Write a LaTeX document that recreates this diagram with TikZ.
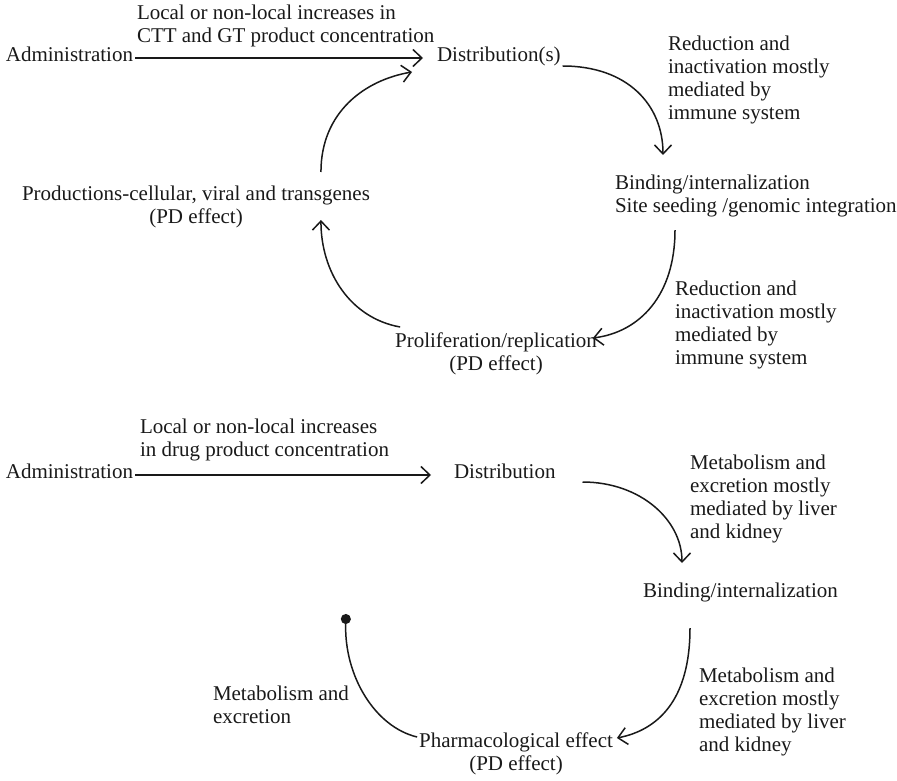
\documentclass[tikz,border=0pt]{standalone}
\usepackage{fontspec}
\setmainfont{Liberation Serif}
\usetikzlibrary{arrows.meta,calc}
\begin{document}
\begin{tikzpicture}[x=1pt,y=-1pt,
  lbl/.style={inner sep=0pt, outer sep=0pt, font=\fontsize{21}{23}\selectfont, text=black!90},
  flow/.style={line width=1.5pt, draw=black!90,
    -{Straight Barb[length=9pt,width=17pt,line width=1.5pt]}},
  endpoint/.style={line width=1.5pt, draw=black!90, -{Circle[length=10pt]}}]
\useasboundingbox (0,0) rectangle (897,781);

% ---------------- cell and gene therapy cycle ----------------
\node[lbl, anchor=north west, align=left] (inc1) at (137,5)
  {Local or non-local increases in\\CTT and GT product concentration};
\node[lbl, anchor=base east] (adm1) at (133,62) {Administration};
\node[lbl, anchor=base west] (dist1) at (437,62) {Distribution(s)};
\node[lbl, anchor=north west, align=left] (red1) at (668,36)
  {Reduction and\\inactivation mostly\\mediated by\\immune system};
\node[lbl, anchor=north west, align=left] (bind1) at (615,175)
  {Binding/internalization\\Site seeding /genomic integration};
\node[lbl, anchor=north west, align=left] (red2) at (675,281)
  {Reduction and\\inactivation mostly\\mediated by\\immune system};
\node[lbl, anchor=north, align=center] (prol) at (496,333)
  {Proliferation/replication\\(PD effect)};
\node[lbl, anchor=north, align=center] (prod) at (196,186)
  {Productions-cellular, viral and transgenes\\(PD effect)};

\draw[flow] ($(adm1.base east)+(2,-4)$) -- ($(dist1.base west)+(-14,-4)$);

\coordinate (p1s) at ($(dist1.base east)+(2,4)$);
\coordinate (p1e) at ($(bind1.north west)+(48,-20)$);
\draw[flow] (p1s) .. controls ($(p1s)+(65,0)$) and ($(p1e)+(0,-50)$) .. (p1e);

\coordinate (p2s) at ($(bind1.south west)+(60,13)$);
\coordinate (p2e) at ($(prol.north east)+(-4,5)$);
\draw[flow] (p2s) .. controls ($(p2s)+(0,65)$) and ($(p2e)+(47,-6)$) .. (p2e);

\coordinate (p3s) at ($(prol.north west)+(5,-6)$);
\coordinate (p3e) at ($(prod.north east)+(-49,34)$);
\draw[flow] (p3s) .. controls ($(p3s)+(-50,-9)$) and ($(p3e)+(0,52)$) .. (p3e);

\coordinate (p4s) at ($(prod.north east)+(-49,-14)$);
\coordinate (p4e) at ($(dist1.base west)+(-25,10)$);
\draw[flow] (p4s) .. controls ($(p4s)+(0,-60)$) and ($(p4e)+(-47,8)$) .. (p4e);

% ---------------- small molecule drug cycle ----------------
\node[lbl, anchor=north west, align=left] (inc2) at (140,419)
  {Local or non-local increases\\in drug product concentration};
\node[lbl, anchor=base east] (adm2) at (133,478) {Administration};
\node[lbl, anchor=base west] (dist2) at (454,478) {Distribution};
\node[lbl, anchor=north west, align=left] (met1) at (690,455)
  {Metabolism and\\excretion mostly\\mediated by liver\\and kidney};
\node[lbl, anchor=north west] (bind2) at (643,583) {Binding/internalization};
\node[lbl, anchor=north west, align=left] (met2) at (699,668)
  {Metabolism and\\excretion mostly\\mediated by liver\\and kidney};
\node[lbl, anchor=north, align=center] (pharm) at (516,733)
  {Pharmacological effect\\(PD effect)};
\node[lbl, anchor=north west, align=left] (met3) at (213,686)
  {Metabolism and\\excretion};

\draw[flow] ($(adm2.base east)+(2,-3)$) -- ($(dist2.base west)+(-23,-3)$);

\coordinate (q1s) at ($(dist2.base east)+(27,4)$);
\coordinate (q1e) at ($(bind2.north west)+(39,-20)$);
\draw[flow] (q1s) .. controls ($(q1s)+(58,0)$) and ($(q1e)+(0,-43)$) .. (q1e);

\coordinate (q2s) at ($(bind2.south west)+(47,26)$);
\coordinate (q2e) at ($(pharm.north east)+(4,5)$);
\draw[flow] (q2s) .. controls ($(q2s)+(0,72)$) and ($(q2e)+(41,-8)$) .. (q2e);

\coordinate (q3e) at (346,614);
\coordinate (q3s) at ($(pharm.north west)+(-2,4)$);
\draw[endpoint] (q3s) .. controls ($(q3s)+(-42,-10)$) and ($(q3e)+(-2,62)$) .. (q3e);
\end{tikzpicture}
\end{document}
